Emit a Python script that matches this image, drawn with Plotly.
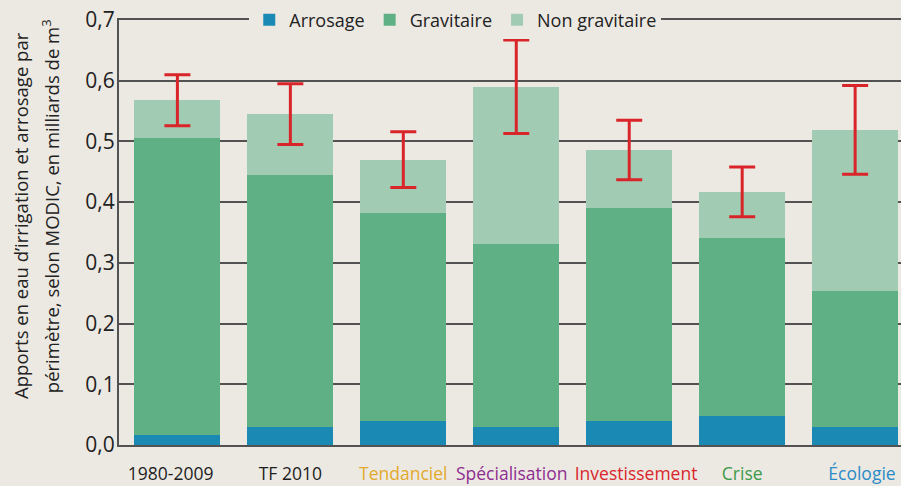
import plotly.graph_objects as go

categories = ["1980-2009", "TF 2010", "Tendanciel", "Spécialisation", "Investissement", "Crise", "Écologie"]
cat_colors = ["#1e1e1e", "#1e1e1e", "#e3a92c", "#8e2d8f", "#d9262b", "#3c9a48", "#2a8bc6"]
arrosage = [0.016, 0.030, 0.040, 0.030, 0.040, 0.048, 0.030]
gravitaire = [0.490, 0.415, 0.342, 0.301, 0.350, 0.293, 0.224]
non_gravitaire = [0.062, 0.100, 0.088, 0.259, 0.096, 0.076, 0.265]
incertitude = [0.042, 0.050, 0.046, 0.077, 0.049, 0.041, 0.073]
y_ticks = [0.0, 0.1, 0.2, 0.3, 0.4, 0.5, 0.6, 0.7]
title_lines = ["Apports en eau d’irrigation et arrosage par",
               "périmètre, selon MODIC, en milliards de m<sup>3</sup>"]

totals = [a + g + n for a, g, n in zip(arrosage, gravitaire, non_gravitaire)]
x = list(range(len(categories)))
bg = "#ece9e3"
font = "Open Sans"
txt = "#222222"
line_col = "#525252"

# small horizontal nudges of the labels (leading / trailing non-breaking spaces)
pad_before = [0, 0, 0, 0, 3, 0, 3]
pad_after = [3, 0, 0, 2, 0, 0, 0]

fig = go.Figure()
fig.add_bar(x=x, y=arrosage, name="Arrosage", marker=dict(color="#1a8ab5", line_width=0))
fig.add_bar(x=x, y=gravitaire, name="Gravitaire", marker=dict(color="#5fb185", line_width=0))
fig.add_bar(x=x, y=non_gravitaire, name="Non gravitaire", marker=dict(color="#a2cbb4", line_width=0))
fig.add_scatter(x=x, y=totals, mode="markers", marker=dict(size=1, color="rgba(0,0,0,0)"),
                showlegend=False, hoverinfo="skip",
                error_y=dict(type="data", array=incertitude, visible=True,
                             color="#d9252a", thickness=3, width=13))

ticktext = ["&nbsp;" * b + f"<span style='color:{c}'>{t}</span>" + "&nbsp;" * a
            for t, c, b, a in zip(categories, cat_colors, pad_before, pad_after)]

fig.update_layout(
    width=901, height=486,
    barmode="stack", bargap=0.24,
    paper_bgcolor=bg, plot_bgcolor=bg,
    margin=dict(l=119, r=0, t=20, b=41, autoexpand=False),
    separators=", ",
    font=dict(family=font, size=17, color=txt),
    legend=dict(orientation="h", x=0.43, xanchor="center", y=1.0, yanchor="middle",
                bgcolor=bg, font=dict(size=18, color=txt), traceorder="normal",
                itemwidth=30),
    xaxis=dict(tickvals=x, ticktext=ticktext, range=[-0.517, 6.406], tickangle=0,
               showgrid=False, zeroline=False, ticks="", tickfont=dict(size=17.5),
               ticklabelstandoff=12,
               showline=True, mirror=True, linecolor=line_col, linewidth=2,
               layer="below traces"),
    yaxis=dict(range=[0, 0.7], tickvals=y_ticks, tickformat=".1f",
               showgrid=True, gridcolor=line_col, gridwidth=2,
               zeroline=False, showline=True, linecolor=line_col, linewidth=2,
               ticks="", ticklabelstandoff=-2,
               tickfont=dict(size=21, color=txt)),
    annotations=[
        dict(text=title_lines[0], xref="paper", yref="paper", x=-0.1253, y=0.539,
             xanchor="center", yanchor="middle", textangle=-90, showarrow=False,
             font=dict(size=18.5, color=txt)),
        dict(text=title_lines[1], xref="paper", yref="paper", x=-0.0882, y=0.562,
             xanchor="center", yanchor="middle", textangle=-90, showarrow=False,
             font=dict(size=18.5, color=txt)),
    ],
)

fig.write_html("out.html", config={"displayModeBar": False},
               post_script="document.body.style.margin='0';document.body.style.overflow='hidden';")
